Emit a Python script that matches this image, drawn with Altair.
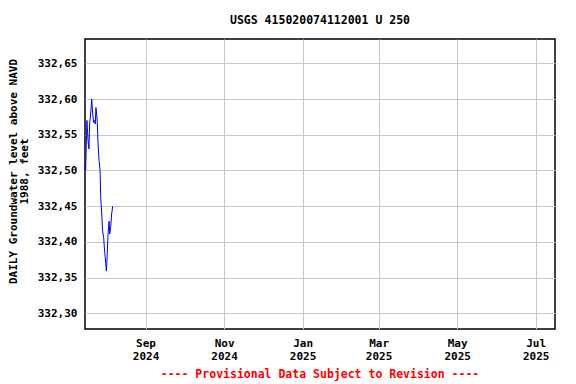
import altair as alt
import pandas as pd

# Time offsets (days from 2024-07-16 00:00) and groundwater levels
day_offsets = [0.0, 0.5, 1.0, 1.5, 2.0, 2.6, 3.1, 3.6, 4.4, 5.2, 6.0, 6.7, 7.5, 8.0, 8.5, 9.0,
               9.6, 10.1, 10.9, 11.7, 12.2, 13.0, 13.7, 14.5, 15.3, 16.1, 16.6, 17.1, 17.9,
               18.7, 19.2, 19.9, 20.7, 21.5]
levels = [332.507, 332.500, 332.535, 332.570, 332.553, 332.537, 332.530, 332.565, 332.579,
          332.600, 332.579, 332.567, 332.570, 332.565, 332.588, 332.579, 332.567, 332.539,
          332.514, 332.500, 332.462, 332.439, 332.415, 332.406, 332.385, 332.371, 332.359,
          332.376, 332.411, 332.429, 332.411, 332.420, 332.439, 332.450]

y_ticks = [332.30, 332.35, 332.40, 332.45, 332.50, 332.55, 332.60, 332.65]
x_tick_months = [(2024, 9), (2024, 11), (2025, 1), (2025, 3), (2025, 5), (2025, 7)]

start = pd.Timestamp("2024-07-16 00:00")
df = pd.DataFrame({
    "date": [(start + pd.Timedelta(days=d)).strftime("%Y-%m-%dT%H:%M:%S") for d in day_offsets],
    "level": levels,
})

FONT = "DejaVu Sans Mono"

x_enc = alt.X(
    "date:T",
    scale=alt.Scale(domain=[alt.DateTime(year=2024, month=7, date=16),
                            alt.DateTime(year=2025, month=7, date=16)]),
    axis=alt.Axis(
        values=[alt.DateTime(year=y, month=m, date=1) for y, m in x_tick_months],
        labelExpr="[timeFormat(datum.value, '%b'), timeFormat(datum.value, '%Y')]",
        title=None, ticks=False, domain=False, grid=True,
        gridColor="#c8c8c8", gridWidth=1,
        labelFont=FONT, labelFontWeight="bold", labelFontSize=11, labelColor="black",
        labelPadding=8, labelLineHeight=13,
    ),
)
y_enc = alt.Y(
    "level:Q",
    scale=alt.Scale(domain=[332.278, 332.684], nice=False, zero=False),
    axis=alt.Axis(
        values=y_ticks,
        labelExpr="replace(format(datum.value, '.2f'), '.', ',')",
        title=["DAILY Groundwater level above NAVD", "1988, feet"],
        titleFont=FONT, titleFontWeight="bold", titleFontSize=11, titleColor="black",
        titleX=-67, titleY=132, titleLineHeight=11,
        ticks=False, domain=False, grid=True, gridColor="#c8c8c8", gridWidth=1,
        labelFont=FONT, labelFontWeight="bold", labelFontSize=11, labelColor="black",
        labelPadding=8,
    ),
)

line = alt.Chart(df).mark_line(color="blue", strokeWidth=1, interpolate="linear").encode(
    x=x_enc, y=y_enc
)

footer = alt.Chart(pd.DataFrame({"t": ["---- Provisional Data Subject to Revision ----"]})).mark_text(
    font=FONT, fontWeight="bold", fontSize=11.5, color="red", baseline="middle", align="center"
).encode(text="t:N", x=alt.value(235), y=alt.value(336))

chart = alt.layer(line, footer).properties(
    width=470, height=290,
    title=alt.TitleParams("USGS 415020074112001 U 250", font=FONT, fontWeight="bold",
                          fontSize=11.5, color="black", anchor="middle", offset=13),
    autosize=alt.AutoSizeParams(type="none"),
    padding={"left": 77, "top": 31, "right": 13, "bottom": 54},
).configure_view(stroke="black", strokeWidth=1.5)

chart.save("out.html", embed_options={"renderer": "svg", "actions": False})
